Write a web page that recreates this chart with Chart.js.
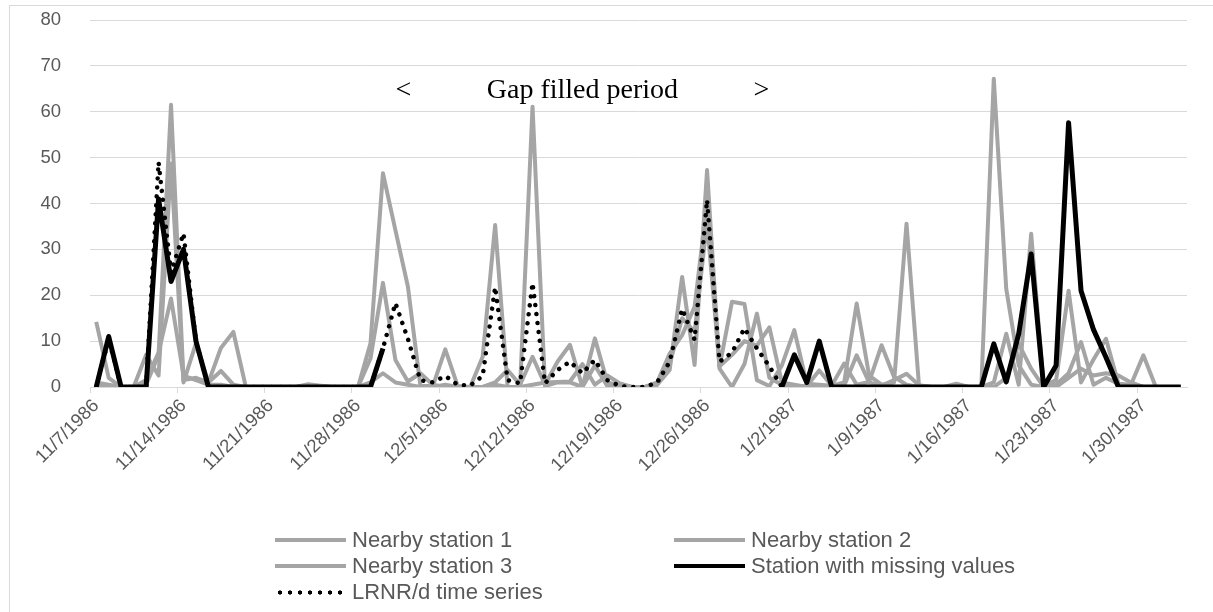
<!DOCTYPE html>
<html lang="en">
<head>
  <meta charset="UTF-8" />
  <title>Gap filled period</title>
  <script src="https://cdn.jsdelivr.net/npm/chart.js"></script>
  <style>
    body {
      margin: 0;
      background: #fff;
      font-family: 'Liberation Sans', Arial, sans-serif;
    }
    #wrap {
      position: relative;
      width: 1213px;
      height: 612px;
      overflow: hidden;
    }
    #frame {
      position: absolute;
      left: 9px;
      top: 5px;
      width: 1300px;
      height: 700px;
      border: 1px solid #d9d9d9;
    }
    #box {
      position: absolute;
      left: 0;
      top: 0;
      width: 1213px;
      height: 612px;
    }
    .item {
      position: absolute;
      height: 26px;
      display: flex;
      align-items: center;
      font-size: 22px;
      color: #595959;
      white-space: nowrap;
    }
    .swatch {
      width: 71px;
      height: 4px;
      margin-right: 6px;
    }
    .swatch.dots {
      height: 5px;
      background-image: radial-gradient(circle, #000 1.9px, transparent 2.3px);
      background-size: 10px 5px;
    }
  </style>
</head>
<body>
  <div id="wrap">
    <div id="frame"></div>
    <div id="box"><canvas id="rain"></canvas></div>
    <div id="legend"></div>
  </div>

  <script>
    // daily dates, 11/7/1986 - 2/2/1987
    const days = [
      '11/7/1986','11/8/1986','11/9/1986','11/10/1986','11/11/1986','11/12/1986','11/13/1986','11/14/1986',
      '11/15/1986','11/16/1986','11/17/1986','11/18/1986','11/19/1986','11/20/1986','11/21/1986','11/22/1986',
      '11/23/1986','11/24/1986','11/25/1986','11/26/1986','11/27/1986','11/28/1986','11/29/1986','11/30/1986',
      '12/1/1986','12/2/1986','12/3/1986','12/4/1986','12/5/1986','12/6/1986','12/7/1986','12/8/1986',
      '12/9/1986','12/10/1986','12/11/1986','12/12/1986','12/13/1986','12/14/1986','12/15/1986','12/16/1986',
      '12/17/1986','12/18/1986','12/19/1986','12/20/1986','12/21/1986','12/22/1986','12/23/1986','12/24/1986',
      '12/25/1986','12/26/1986','12/27/1986','12/28/1986','12/29/1986','12/30/1986','12/31/1986',
      '1/1/1987','1/2/1987','1/3/1987','1/4/1987','1/5/1987','1/6/1987','1/7/1987','1/8/1987',
      '1/9/1987','1/10/1987','1/11/1987','1/12/1987','1/13/1987','1/14/1987','1/15/1987','1/16/1987',
      '1/17/1987','1/18/1987','1/19/1987','1/20/1987','1/21/1987','1/22/1987','1/23/1987','1/24/1987',
      '1/25/1987','1/26/1987','1/27/1987','1/28/1987','1/29/1987','1/30/1987','1/31/1987',
      '2/1/1987','2/2/1987'
    ];

    const station1 = [
      14.2, 2, 0, 0, 0.5, 7, 61.5, 1.5, 2, 1, 8.5, 12, 0,
      0, 0, 0, 0, 0.6, 0.3, 0, 0, 0,
      9.5, 46.6, 34.2, 21.9, 0.3, 0.2, 8.2, 0.2, 0, 6.6, 35.3, 0, 0,
      61.1, 0.2, 1, 1, 0, 10.6, 1, 0.4, 0, 0, 0.5, 3.7,
      24, 4.8, 47.3, 4.4, 18.6, 18.1, 1.5, 0.2, 4.7, 12.4,
      0.7, 0.5, 0.3, 1, 18.2, 2.5, 0.5, 1, 35.6, 0.3, 0, 0, 0.7, 0, 0,
      67.2, 21.4, 4.7, 0.5, 0, 0.5, 3, 9.8, 0.5, 2, 0.7, 0.5, 6.9, 0, 0, 0
    ];
    const station2 = [
      1, 0.5, 0, 0, 7, 2.5, 48.7, 1, 9.5, 1, 3.5, 0.5, 0,
      0, 0, 0, 0, 0, 0, 0, 0, 0,
      6.2, 22.7, 5.9, 1.2, 3, 0.5, 0, 0, 0, 0, 1, 3.7, 0.5,
      6.6, 0.5, 5.5, 9.2, 0, 4.7, 0.2, 0, 0, 0, 1, 7.3,
      11.3, 17.5, 40, 4, 0, 5, 16, 2, 0.5, 0.3,
      0.2, 3.6, 0.3, 5.1, 0.5, 1.1, 9.1, 2.2, 0.5, 0, 0, 0, 0, 0, 0,
      1, 11.6, 0.5, 33.4, 0.2, 1.5, 21, 1, 6, 10.5, 0.7, 0, 0, 0, 0, 0
    ];
    const station3 = [
      0, 0, 0, 0, 1.5, 7.5, 19.3, 2.5, 1.5, 0.5, 0.5, 0, 0,
      0, 0, 0, 0, 0, 0, 0, 0, 0,
      1, 3, 1, 0.5, 0, 0, 0.5, 0, 0, 0, 0.5, 0, 0,
      0.5, 1, 1.1, 1.2, 5, 0.5, 2.5, 0.8, 0, 0, 0.5, 5,
      15, 12, 36, 4.5, 7, 10, 9, 13, 1, 0.5,
      0, 0, 0, 0.3, 6.9, 1, 0.3, 1.5, 2.9, 0.4, 0, 0, 0, 0, 0,
      0, 2, 9.4, 4, 0, 0, 2, 4, 2.5, 3, 2.5, 1, 0, 0, 0, 0
    ];
    // December is missing at the target station
    const missing = [
      0, 11, 0, 0, 0, 41, 23, 30, 10, 0,
      0, 0, 0, 0, 0, 0, 0, 0, 0, 0,
      0, 0, 0, 8.4,
      null, null, null, null, null, null, null, null, null, null,
      null, null, null, null, null, null, null, null, null, null,
      null, null, null, null, null, null, null, null, null, null, null,
      0, 7, 1, 10, 0,
      0, 0, 0, 0, 0, 0, 0, 0, 0, 0,
      0, 0, 9.4, 1.1, 11.6, 29, 0, 4.7, 57.6, 21,
      12.5, 6.5, 0, 0, 0, 0, 0, 0
    ];
    const lrnr = [
      0, 10.5, 0, 0, 0, 49, 25, 33.5, 10, 0,
      0, 0, 0, 0, 0, 0, 0, 0, 0, 0, 0, 0, 0,
      8.4, 18.3, 10.5, 1.5, 1, 2.4, 0.5,
      0.3, 2.4, 21.8, 1.5, 0.8, 22.7, 0.8, 3.7, 5.5, 3,
      5.9, 1.5, 0.2, 0, 0, 1, 5.5, 17, 10.3, 40.8,
      5.5, 7.5, 12.8, 8.4, 4.5, 0,
      null, null, null, null, null, null, null, null, null, null, null,
      null, null, null, null, null, null, null, null, null, null, null,
      null, null, null, null, null, null, null, null, null, null
    ];

    const GREY = '#a5a5a5';
    const TXT = '#595959';
    const FONT = "'Liberation Sans', Arial, sans-serif";

    function series(label, data, color, width, order, extra) {
      return Object.assign({
        label: label,
        data: data,
        borderColor: color,
        backgroundColor: color,
        borderWidth: width,
        borderJoinStyle: 'round',
        pointRadius: 0,
        tension: 0,
        fill: false,
        spanGaps: false,
        order: order
      }, extra || {});
    }

    // "< Gap filled period >" spanning the missing block
    const gapNote = {
      id: 'gapNote',
      afterDatasetsDraw(chart) {
        const { ctx, scales: { x, y } } = chart;
        const first = missing.indexOf(null);
        const last = missing.lastIndexOf(null);
        const yy = y.getPixelForValue(63);
        ctx.save();
        ctx.fillStyle = '#000';
        ctx.font = "28px 'Liberation Serif', 'Times New Roman', serif";
        ctx.textBaseline = 'alphabetic';
        ctx.textAlign = 'left';
        ctx.fillText('<', x.getPixelForValue(first), yy);
        ctx.textAlign = 'right';
        ctx.fillText('>', x.getPixelForValue(last), yy);
        ctx.textAlign = 'center';
        ctx.fillText('Gap filled period', x.getPixelForValue((first + last) / 2), yy);
        ctx.restore();
      }
    };

    const chart = new Chart(document.getElementById('rain'), {
      type: 'line',
      data: {
        labels: days,
        datasets: [
          series('Nearby station 1', station1, GREY, 4, 4),
          series('Nearby station 2', station2, GREY, 4, 3),
          series('Nearby station 3', station3, GREY, 4, 2),
          series('Station with missing values', missing, '#000', 5, 1),
          series('LRNR/d time series', lrnr, '#000', 4.5, 0, {
            borderDash: [0.01, 9],
            borderCapStyle: 'round'
          })
        ]
      },
      options: {
        responsive: true,
        maintainAspectRatio: false,
        animation: false,
        devicePixelRatio: 1,
        layout: { padding: { top: 20, right: 26, left: 0, bottom: 0 } },
        plugins: {
          legend: { display: false },
          tooltip: { enabled: false }
        },
        scales: {
          x: {
            offset: true,
            grid: {
              offset: true,
              drawOnChartArea: false,
              drawTicks: true,
              tickLength: 6,
              color: c => (c.index % 7 === 0 ? '#d9d9d9' : 'rgba(0,0,0,0)')
            },
            border: { color: '#d9d9d9', width: 1 },
            ticks: {
              autoSkip: false,
              minRotation: 45,
              maxRotation: 45,
              padding: 2,
              color: TXT,
              font: { size: 18.5, family: FONT },
              callback(v, i) { return i % 7 === 0 ? this.getLabelForValue(v) : ''; }
            },
            afterFit(s) { s.height = 225; }
          },
          y: {
            min: 0,
            max: 80,
            ticks: {
              stepSize: 10,
              padding: 0,
              color: TXT,
              font: { size: 18.5, family: FONT }
            },
            // invisible tick marks keep the labels clear of the plot
            grid: {
              color: '#d9d9d9',
              lineWidth: 1,
              drawTicks: true,
              tickLength: 29,
              tickColor: 'rgba(0,0,0,0)'
            },
            border: { display: false },
            afterFit(s) { s.width = 90; }
          }
        }
      },
      plugins: [gapNote]
    });

    // two-column legend under the plot
    const cols = [275, 674];
    const rows = [540, 566, 592];
    const legend = document.getElementById('legend');
    chart.data.datasets.forEach((ds, i) => {
      const item = document.createElement('div');
      item.className = 'item';
      item.style.left = cols[i % 2] + 'px';
      item.style.top = (rows[Math.floor(i / 2)] - 13) + 'px';
      const sw = document.createElement('span');
      sw.className = 'swatch';
      if (ds.borderDash) {
        sw.classList.add('dots');
      } else {
        sw.style.background = ds.borderColor;
      }
      item.appendChild(sw);
      item.appendChild(document.createTextNode(ds.label));
      legend.appendChild(item);
    });
  </script>
</body>
</html>
